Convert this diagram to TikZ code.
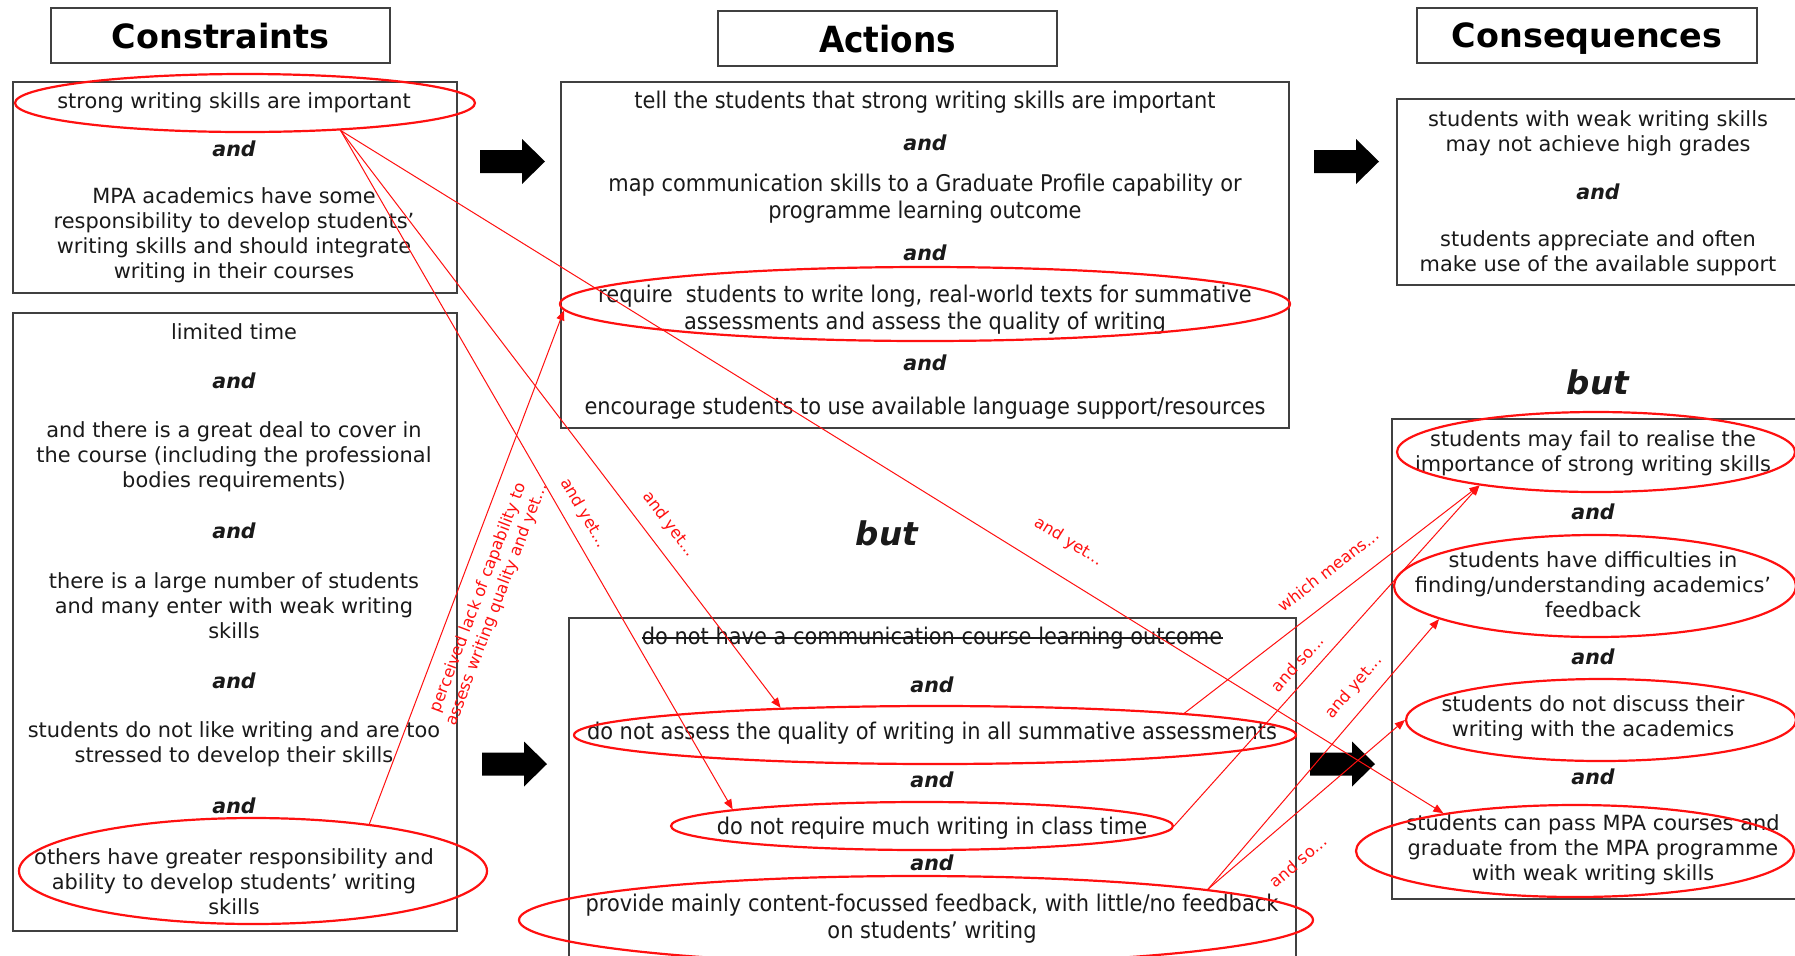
\documentclass[tikz,border=0pt]{standalone}
\usepackage{fontspec}
\setmainfont{DejaVu Sans}
\newfontfamily\narrowsans[FakeStretch=0.91]{DejaVu Sans}
\usetikzlibrary{shapes.geometric,arrows.meta}
\definecolor{boxline}{HTML}{404040}
\definecolor{ink}{HTML}{1A1A1A}
\definecolor{annot}{HTML}{FF1010}
\newcommand{\fBody}{\fontsize{10.45}{12.5}\selectfont}
\newcommand{\fAct}{\narrowsans\fontsize{11.5}{13.5}\selectfont}
\newcommand{\fAnd}{\fontsize{10.3}{12}\selectfont\bfseries\itshape}
\newcommand{\fTag}{\fontsize{8.1}{9.8}\selectfont}
\tikzset{
  boxframe/.style={draw=boxline, line width=0.65pt, inner sep=0pt},
  heading/.style={boxframe, text=black, font=\fontsize{16.7}{20}\selectfont\bfseries,
    minimum width=169.5pt, minimum height=27.5pt, text depth=0pt},
  txt/.style={align=center, text=ink, font=\fBody, inner sep=0pt},
  acttxt/.style={txt, font=\fAct},
  andword/.style={text=ink, font=\fAnd, inner sep=0pt},
  butword/.style={text=ink, font=\fontsize{16.3}{20}\selectfont\bfseries\itshape, inner sep=0pt},
  ring/.style={ellipse, draw=annot, line width=1.1pt, inner sep=0pt},
  link/.style={draw=annot, line width=0.5pt, -{Triangle[length=5pt,width=4pt]}},
  tag/.style={text=annot, font=\fTag, sloped, inner sep=0.5pt, align=center},
  blockarrow/.pic={\fill[black] (0,-11.5) -- (42,-11.5) -- (42,-22.5) -- (65,0)
    -- (42,22.5) -- (42,11.5) -- (0,11.5) -- cycle;}
}
\begin{document}
\begin{tikzpicture}[x=0.5pt, y=-0.5pt]
\useasboundingbox (0,0) rectangle (1795,955);
\fill[white] (0,0) rectangle (1795,955);

% column headings
\node[heading] (hCons) at (220.5,35.5) {Constraints};
\node[heading, font=\narrowsans\fontsize{18}{22}\selectfont\bfseries] (hAct) at (887.5,38.5) {Actions};
\node[heading, minimum width=170pt] (hConq) at (1587,35.5) {Consequences};

% frames
\node[boxframe, minimum width=222pt, minimum height=105.5pt] (cTop) at (235,187.5) {};
\node[boxframe, minimum width=222pt, minimum height=309pt] (cLow) at (235,622) {};
\node[boxframe, minimum width=364pt, minimum height=173pt] (aTop) at (925,255) {};
\node[boxframe, minimum width=363.5pt, minimum height=181pt] (aLow) at (932.5,799) {};
\node[boxframe, minimum width=201.5pt, minimum height=93pt] (qTop) at (1598.5,192) {};
\node[boxframe, minimum width=203pt, minimum height=240pt] (qLow) at (1595,659) {};

% constraints
\node[txt] (c1) at (234,103) {strong writing skills are important};
\node[andword] (c1and) at (234,149) {and};
\node[txt] (c2) at (234,235) {MPA academics have some\\responsibility to develop students’\\writing skills and should integrate\\writing in their courses};
\node[txt] (c3) at (234,332) {limited time};
\node[andword] (c3and) at (234,381) {and};
\node[txt] (c4) at (234,457) {and there is a great deal to cover in\\the course (including the professional\\bodies requirements)};
\node[andword] (c4and) at (234,531) {and};
\node[txt] (c5) at (234,606) {there is a large number of students\\and many enter with weak writing\\skills};
\node[andword] (c5and) at (234,681) {and};
\node[txt] (c6) at (234,744) {students do not like writing and are too\\stressed to develop their skills};
\node[andword] (c6and) at (234,806) {and};
\node[txt] (c7) at (234,882) {others have greater responsibility and\\ability to develop students’ writing\\skills};

% actions, upper group
\node[acttxt] (a1) at (925,102) {tell the students that strong writing skills are important};
\node[andword] (a1and) at (925,143) {and};
\node[acttxt] (a2) at (925,199) {map communication skills to a Graduate Profile capability or\\programme learning outcome};
\node[andword] (a2and) at (925,253) {and};
\node[acttxt] (a3) at (925,309.5) {require\ \ students to write long, real-world texts for summative\\assessments and assess the quality of writing};
\node[andword] (a3and) at (925,363) {and};
\node[acttxt] (a4) at (925,408) {encourage students to use available language support/resources};

% actions, lower group
\node[acttxt] (b0) at (932,638) {do not have a communication course learning outcome};
\draw[ink, line width=0.6pt] (b0.west) -- (b0.east);
\node[andword] (b0and) at (932,685) {and};
\node[acttxt] (b1) at (932,733) {do not assess the quality of writing in all summative assessments};
\node[andword] (b1and) at (932,780) {and};
\node[acttxt] (b2) at (932,828) {do not require much writing in class time};
\node[andword] (b2and) at (932,863) {and};
\node[acttxt] (b3) at (932,919) {provide mainly content-focussed feedback, with little/no feedback\\on students’ writing};

% consequences
\node[txt] (q1) at (1598,133) {students with weak writing skills\\may not achieve high grades};
\node[andword] (q1and) at (1598,192) {and};
\node[txt] (q2) at (1598,253) {students appreciate and often\\make use of the available support};
\node[butword] (qbut) at (1598,382) {but};
\node[txt] (q3) at (1593,453) {students may fail to realise the\\importance of strong writing skills};
\node[andword] (q3and) at (1593,512) {and};
\node[txt] (q4) at (1593,585) {students have difficulties in\\finding/understanding academics’\\feedback};
\node[andword] (q4and) at (1593,657) {and};
\node[txt] (q5) at (1593,718) {students do not discuss their\\writing with the academics};
\node[andword] (q5and) at (1593,777) {and};
\node[txt] (q6) at (1593,850) {students can pass MPA courses and\\graduate from the MPA programme\\with weak writing skills};

\node[butword] (abut) at (887,533) {but};

% block arrows between columns
\pic at (480,161.5) {blockarrow};
\pic at (1314,161.5) {blockarrow};
\pic at (482,764) {blockarrow};
\pic at (1310,764) {blockarrow};

% highlighted statements
\node[ring, minimum width=230pt, minimum height=29pt] (eStrong) at (245,103) {};
\node[ring, minimum width=234pt, minimum height=53pt] (eOthers) at (253,871) {};
\node[ring, minimum width=365pt, minimum height=37pt] (eRequire) at (925,304) {};
\node[ring, minimum width=361pt, minimum height=29pt] (eAssess) at (935,735) {};
\node[ring, minimum width=251pt, minimum height=24pt] (eClass) at (922,826) {};
\node[ring, minimum width=397pt, minimum height=44pt] (eProvide) at (916,920) {};
\node[ring, minimum width=199pt, minimum height=40pt] (eFail) at (1596,452) {};
\node[ring, minimum width=201pt, minimum height=51pt] (eDiff) at (1595,586) {};
\node[ring, minimum width=195pt, minimum height=41pt] (eDiscuss) at (1601,720) {};
\node[ring, minimum width=219pt, minimum height=46pt] (ePass) at (1575,851) {};

% reasoning links
\draw[link] (eStrong.-16) -- node[tag, pos=0.706, above=6.5pt] (t1) {and yet...} (eAssess.170);
\draw[link] (eStrong.-16) -- node[tag, pos=0.578, above=5pt] (t2) {and yet...} (eClass.175);
\draw[link] (eStrong.-16) -- node[tag, pos=0.644, above=12pt] (t3) {and yet...} (ePass.164);
\draw[link] (eOthers.22.5) -- node[tag, pos=0.456, below=6.4pt] (t4) {perceived lack of capability to\\assess writing quality and yet...} (eRequire.181.5);
\draw[link] (eAssess.5) -- node[tag, pos=0.54, above=8.7pt] (t5) {which means...} (eFail.196);
\draw[link] (eClass.0) -- node[tag, pos=0.445, above=4.5pt] (t6) {and so...} (eFail.196);
\draw[link] (eProvide.6) -- node[tag, pos=0.699, above=5.5pt] (t7) {and yet...} (eDiff.192);
\draw[link] (eProvide.6) -- node[tag, pos=0.333, below=15pt] (t8) {and so...} (eDiscuss.180);
\end{tikzpicture}
\end{document}
